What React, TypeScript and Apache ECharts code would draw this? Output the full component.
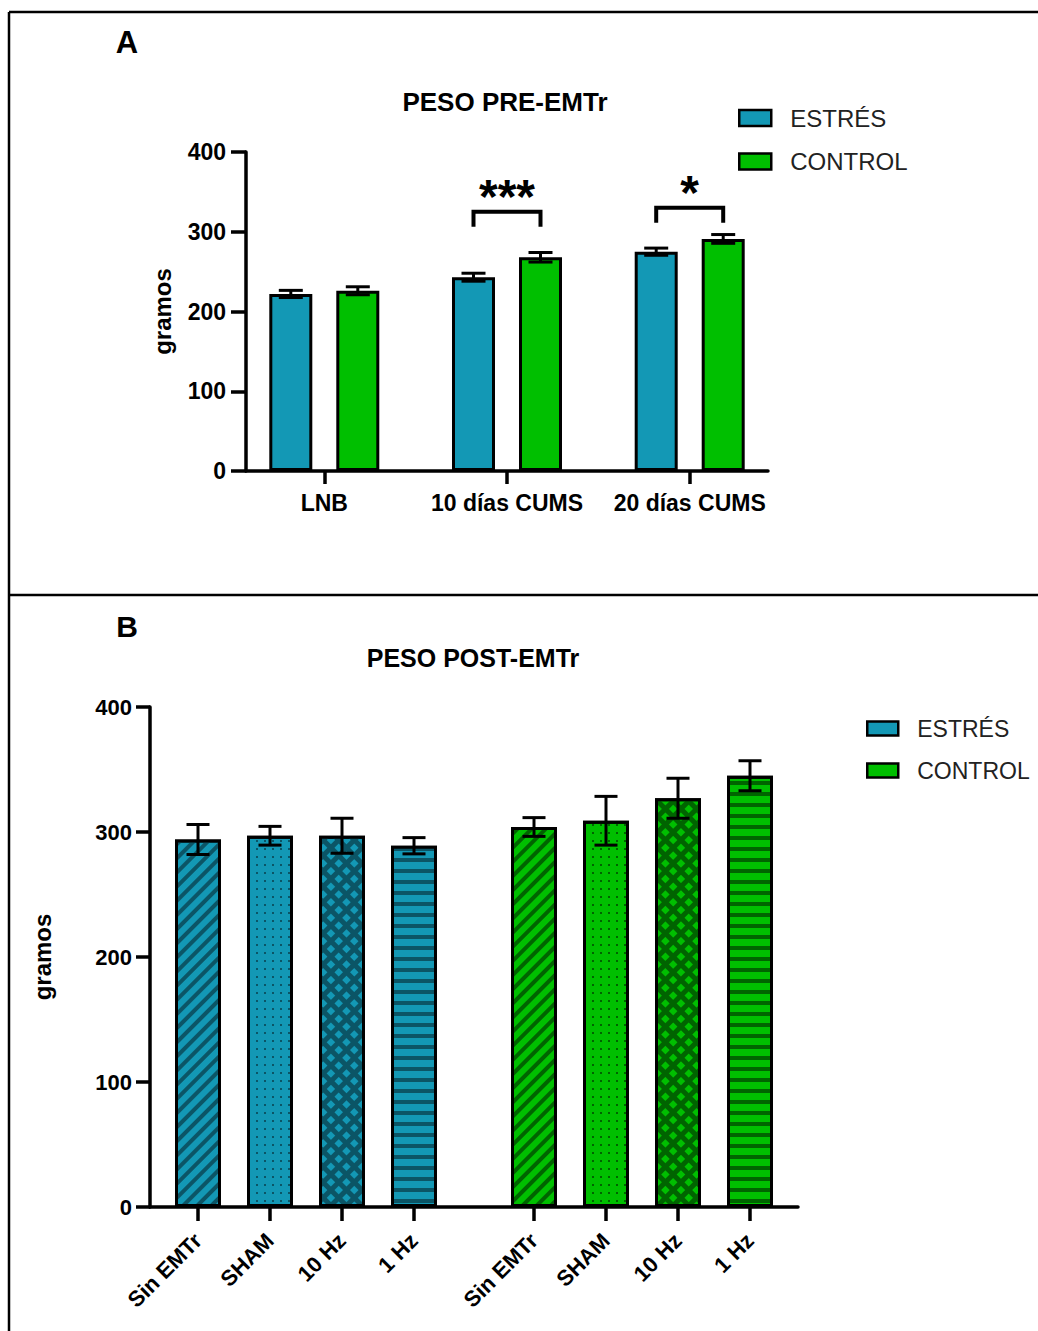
import React, { useEffect, useRef } from 'react';
import * as echarts from 'echarts';

// ---------- DATA ----------
const seriesNames = ['ESTRÉS', 'CONTROL'];

const preCategories = ['LNB', '10 días CUMS', '20 días CUMS'];
const preEstres = [222, 243, 275];
const preEstresSem = [4.5, 5, 4.5];
const preControl = [226, 268, 291];
const preControlSem = [5, 6, 5.5];
const preSigCategories = ['10 días CUMS', '20 días CUMS'];
const preSigMarks = ['***', '*'];
const preSigLevels = [325, 330];

const postCategories = ['Sin EMTr', 'SHAM', '10 Hz', '1 Hz'];
const postEstres = [294, 297, 297, 289];
const postEstresSem = [12, 7.5, 14, 6.5];
const postControl = [304, 309, 327, 345];
const postControlSem = [7.5, 19.5, 16, 12];
const postPatterns = ['diag', 'dots', 'cross', 'horiz'];

const yTickValues = [0, 100, 200, 300, 400];

// ---------- STYLE / LAYOUT ----------
const FONT = '"Liberation Sans", Arial, sans-serif';
const BLUE = '#1398b5';
const BLUE_DARK = '#0b5566';
const GREEN = '#00bf00';
const GREEN_DARK = '#006400';

// slot layout on the category axes (boundaryGap false)
const PRE_LEAD = 3;
const PRE_STEP = 7;
const PRE_SLOTS = 21;
const POST_STEP = 3;
const POST_GROUP_START = [2, 16];
const POST_SLOTS = 28;

const preSlot = (i: number) => PRE_LEAD + PRE_STEP * i;
const postSlot = (g: number, i: number) => POST_GROUP_START[g] + POST_STEP * i;

const preLabels: string[] = Array.from({ length: PRE_SLOTS }, () => '');
preCategories.forEach((c, i) => (preLabels[preSlot(i)] = c));
const postLabels: string[] = Array.from({ length: POST_SLOTS }, () => '');
postCategories.forEach((c, i) => {
  postLabels[postSlot(0, i)] = c;
  postLabels[postSlot(1, i)] = c;
});

const PRE_BAR_W = 43;
const PRE_BAR_GAP = 24;
const PRE_OFFSET = (PRE_BAR_W + PRE_BAR_GAP) / 2;
const POST_BAR_W = 46;

function makeDecal(kind: string, dark: string): any {
  switch (kind) {
    case 'diag':
      return { symbol: 'rect', symbolSize: 1, dashArrayX: [1, 0], dashArrayY: [4, 5.5], rotation: -Math.PI / 4, color: dark };
    case 'dots':
      return { symbol: 'rect', symbolSize: 1, dashArrayX: [1.5, 5.5], dashArrayY: [1.5, 5.5], color: dark };
    case 'cross':
      return {
        symbol: 'rect',
        symbolSize: 1,
        dashArrayX: [[1, 0], [0, 5.5, 4.5, 0]],
        dashArrayY: [4.5, 0, 5.5, 0],
        rotation: Math.PI / 4,
        color: dark,
      };
    default:
      return { symbol: 'rect', symbolSize: 1, dashArrayX: [1, 0], dashArrayY: [3.5, 6.5], color: dark };
  }
}

function slotData(n: number, slots: number[], values: any[]) {
  const arr: any[] = Array.from({ length: n }, () => '-');
  slots.forEach((s, i) => (arr[s] = values[i]));
  return arr;
}

const errorBar = (offset: number, cap: number, lw: number) => (params: any, api: any) => {
  const slot = api.value(0);
  const mean = api.value(1);
  const sem = api.value(2);
  const top = api.coord([slot, mean + sem]);
  const bot = api.coord([slot, mean - sem]);
  const x = top[0] + offset;
  const style = { stroke: '#000', lineWidth: lw, fill: null };
  return {
    type: 'group',
    children: [
      { type: 'line', shape: { x1: x, y1: top[1], x2: x, y2: bot[1] }, style },
      { type: 'line', shape: { x1: x - cap / 2, y1: top[1], x2: x + cap / 2, y2: top[1] }, style },
      { type: 'line', shape: { x1: x - cap / 2, y1: bot[1], x2: x + cap / 2, y2: bot[1] }, style },
    ],
  };
};

const bracket = (params: any, api: any) => {
  const slot = api.value(0);
  const level = api.value(1);
  const k = api.value(2);
  const p = api.coord([slot, level]);
  const x1 = p[0] - PRE_OFFSET;
  const x2 = p[0] + PRE_OFFSET;
  const y = p[1];
  return {
    type: 'group',
    children: [
      {
        type: 'polyline',
        shape: { points: [[x1, y + 15], [x1, y], [x2, y], [x2, y + 15]] },
        style: { stroke: '#000', lineWidth: 4, fill: null },
      },
      {
        type: 'text',
        x: p[0],
        y: y - 15,
        style: {
          text: preSigMarks[k],
          fontFamily: FONT,
          fontWeight: 'bold',
          fontSize: 48,
          textAlign: 'center',
          textVerticalAlign: 'middle',
          fill: '#000',
        },
      },
    ],
  };
};

function yAxis(gridIndex: number, nameGap: number, lw: number, tickLen: number, fs: number, margin: number) {
  return {
    gridIndex,
    type: 'value',
    min: yTickValues[0],
    max: yTickValues[yTickValues.length - 1],
    interval: yTickValues[1] - yTickValues[0],
    name: 'gramos',
    nameLocation: 'middle',
    nameGap,
    nameRotate: 90,
    nameTextStyle: { fontFamily: FONT, fontSize: 24, fontWeight: 'bold', color: '#000' },
    axisLine: { show: true, lineStyle: { color: '#000', width: lw } },
    axisTick: { show: true, length: tickLen, lineStyle: { color: '#000', width: lw } },
    axisLabel: { color: '#000', fontFamily: FONT, fontWeight: 'bold', fontSize: fs, margin },
    splitLine: { show: false },
  };
}

function buildOption(): any {
  const preSlotsArr = preCategories.map((_, i) => preSlot(i));
  const postSlots0 = postCategories.map((_, i) => postSlot(0, i));
  const postSlots1 = postCategories.map((_, i) => postSlot(1, i));

  const postEstresItems = postEstres.map((v, i) => ({
    value: v,
    itemStyle: { decal: makeDecal(postPatterns[i], BLUE_DARK) },
  }));
  const postControlItems = postControl.map((v, i) => ({
    value: v,
    itemStyle: { decal: makeDecal(postPatterns[i], GREEN_DARK) },
  }));

  return {
    animation: false,
    backgroundColor: '#fff',
    textStyle: { fontFamily: FONT },
    grid: [
      { left: 246, top: 152, width: 522, height: 319 },
      { left: 150, top: 707, width: 648, height: 500 },
    ],
    legend: [
      {
        data: seriesNames,
        orient: 'vertical',
        left: 738,
        top: 106,
        padding: 0,
        itemWidth: 32,
        itemHeight: 16,
        itemGap: 19.5,
        icon: 'rect',
        itemStyle: { borderColor: '#000', borderWidth: 2.5 },
        textStyle: { fontFamily: FONT, fontSize: 24, lineHeight: 24, color: '#222', padding: [0, 0, 0, 14] },
        selectedMode: false,
      },
      {
        data: seriesNames,
        orient: 'vertical',
        left: 866,
        top: 717,
        padding: 0,
        itemWidth: 31,
        itemHeight: 14,
        itemGap: 19,
        icon: 'rect',
        itemStyle: { borderColor: '#000', borderWidth: 2.5 },
        textStyle: { fontFamily: FONT, fontSize: 23, lineHeight: 23, color: '#222', padding: [0, 0, 0, 14] },
        selectedMode: false,
      },
    ],
    xAxis: [
      {
        gridIndex: 0,
        type: 'category',
        boundaryGap: false,
        data: preLabels.map((_, i) => String(i)),
        axisLine: { lineStyle: { color: '#000', width: 3.5 } },
        axisTick: {
          show: true,
          length: 13,
          interval: (i: number) => preLabels[i] !== '',
          lineStyle: { color: '#000', width: 3.5 },
        },
        axisLabel: {
          interval: (i: number) => preLabels[i] !== '',
          formatter: (v: string) => preLabels[Number(v)],
          color: '#000',
          fontFamily: FONT,
          fontWeight: 'bold',
          fontSize: 23,
          margin: 20,
        },
        splitLine: { show: false },
      },
      {
        gridIndex: 1,
        type: 'category',
        boundaryGap: false,
        data: postLabels.map((_, i) => String(i)),
        axisLine: { lineStyle: { color: '#000', width: 3.5 } },
        axisTick: {
          show: true,
          length: 14,
          interval: (i: number) => postLabels[i] !== '',
          lineStyle: { color: '#000', width: 3.5 },
        },
        axisLabel: {
          interval: (i: number) => postLabels[i] !== '',
          formatter: (v: string) => postLabels[Number(v)],
          rotate: 45,
          color: '#000',
          fontFamily: FONT,
          fontWeight: 'bold',
          fontSize: 22,
          margin: 30,
        },
        splitLine: { show: false },
      },
    ],
    yAxis: [yAxis(0, 72, 3.5, 15, 23, 20), yAxis(1, 96, 3.5, 14, 22, 18)],
    series: [
      {
        type: 'bar',
        name: seriesNames[0],
        xAxisIndex: 0,
        yAxisIndex: 0,
        data: slotData(PRE_SLOTS, preSlotsArr, preEstres),
        barWidth: PRE_BAR_W,
        barGap: `${(PRE_BAR_GAP / PRE_BAR_W) * 100}%`,
        itemStyle: { color: BLUE, borderColor: '#000', borderWidth: 3 },
      },
      {
        type: 'bar',
        name: seriesNames[1],
        xAxisIndex: 0,
        yAxisIndex: 0,
        data: slotData(PRE_SLOTS, preSlotsArr, preControl),
        barWidth: PRE_BAR_W,
        itemStyle: { color: GREEN, borderColor: '#000', borderWidth: 3 },
      },
      {
        type: 'custom',
        name: 'pre-err-estres',
        xAxisIndex: 0,
        yAxisIndex: 0,
        z: 5,
        renderItem: errorBar(-PRE_OFFSET, 24, 3),
        data: preEstres.map((v, i) => [preSlot(i), v, preEstresSem[i]]),
      },
      {
        type: 'custom',
        name: 'pre-err-control',
        xAxisIndex: 0,
        yAxisIndex: 0,
        z: 5,
        renderItem: errorBar(PRE_OFFSET, 24, 3),
        data: preControl.map((v, i) => [preSlot(i), v, preControlSem[i]]),
      },
      {
        type: 'custom',
        name: 'pre-sig',
        xAxisIndex: 0,
        yAxisIndex: 0,
        z: 5,
        renderItem: bracket,
        data: preSigCategories.map((c, k) => [preSlot(preCategories.indexOf(c)), preSigLevels[k], k]),
      },
      {
        type: 'bar',
        name: seriesNames[0],
        xAxisIndex: 1,
        yAxisIndex: 1,
        data: slotData(POST_SLOTS, postSlots0, postEstresItems),
        barWidth: POST_BAR_W,
        barGap: '-100%',
        itemStyle: { color: BLUE, borderColor: '#000', borderWidth: 3 },
      },
      {
        type: 'bar',
        name: seriesNames[1],
        xAxisIndex: 1,
        yAxisIndex: 1,
        data: slotData(POST_SLOTS, postSlots1, postControlItems),
        barWidth: POST_BAR_W,
        barGap: '-100%',
        itemStyle: { color: GREEN, borderColor: '#000', borderWidth: 3 },
      },
      {
        type: 'custom',
        name: 'post-err-estres',
        xAxisIndex: 1,
        yAxisIndex: 1,
        z: 5,
        renderItem: errorBar(0, 23, 3),
        data: postEstres.map((v, i) => [postSlot(0, i), v, postEstresSem[i]]),
      },
      {
        type: 'custom',
        name: 'post-err-control',
        xAxisIndex: 1,
        yAxisIndex: 1,
        z: 5,
        renderItem: errorBar(0, 23, 3),
        data: postControl.map((v, i) => [postSlot(1, i), v, postControlSem[i]]),
      },
    ],
    graphic: [
      { type: 'line', shape: { x1: 9, y1: 12, x2: 1038, y2: 12 }, style: { stroke: '#000', lineWidth: 2.5 } },
      { type: 'line', shape: { x1: 9, y1: 12, x2: 9, y2: 1331 }, style: { stroke: '#000', lineWidth: 2.5 } },
      { type: 'line', shape: { x1: 9, y1: 595, x2: 1038, y2: 595 }, style: { stroke: '#000', lineWidth: 2.5 } },
      {
        type: 'text', x: 127, y: 42,
        style: { text: 'A', fontFamily: FONT, fontWeight: 'bold', fontSize: 31, textAlign: 'center', textVerticalAlign: 'middle', fill: '#000' },
      },
      {
        type: 'text', x: 127, y: 626,
        style: { text: 'B', fontFamily: FONT, fontWeight: 'bold', fontSize: 30, textAlign: 'center', textVerticalAlign: 'middle', fill: '#000' },
      },
      {
        type: 'text', x: 505, y: 102,
        style: { text: 'PESO PRE-EMTr', fontFamily: FONT, fontWeight: 'bold', fontSize: 26, textAlign: 'center', textVerticalAlign: 'middle', fill: '#000' },
      },
      {
        type: 'text', x: 473, y: 658,
        style: { text: 'PESO POST-EMTr', fontFamily: FONT, fontWeight: 'bold', fontSize: 25, textAlign: 'center', textVerticalAlign: 'middle', fill: '#000' },
      },
    ],
  };
}

export default function App() {
  const ref = useRef<HTMLDivElement>(null);
  useEffect(() => {
    document.body.style.margin = '0';
    const chart = echarts.init(ref.current as HTMLDivElement, null, { renderer: 'svg' });
    chart.setOption(buildOption());
    return () => chart.dispose();
  }, []);
  return <div ref={ref} style={{ width: 1038, height: 1331 }} />;
}
